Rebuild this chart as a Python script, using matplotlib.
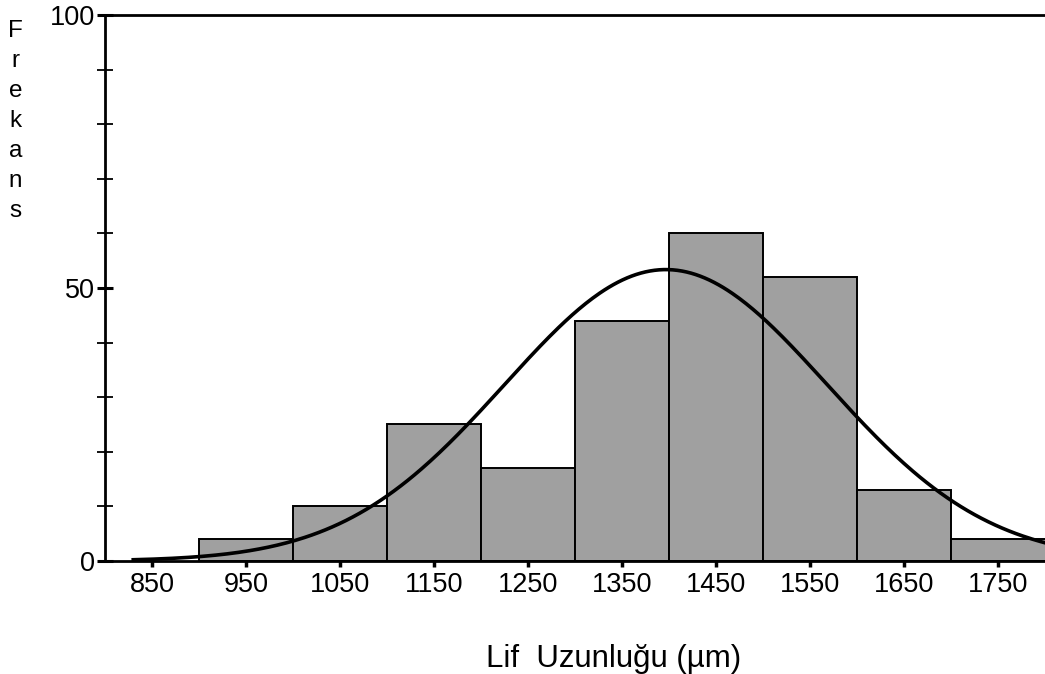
import matplotlib.pyplot as plt
import numpy as np

plt.rcParams['font.family'] = ['Liberation Sans', 'DejaVu Sans']

# histogram bins (fibre length, um) and counts
bin_edges = [900, 1000, 1100, 1200, 1300, 1400, 1500, 1600, 1700, 1800]
counts = [4, 10, 25, 17, 44, 60, 52, 13, 4]
x_ticks = [850, 950, 1050, 1150, 1250, 1350, 1450, 1550, 1650, 1750]
y_ticks = [0, 50, 100]
y_label = "Frekans"
x_label = "Lif  Uzunluğu (µm)"

edges = np.array(bin_edges, dtype=float)
n = np.array(counts, dtype=float)
mids = (edges[:-1] + edges[1:]) / 2
widths = np.diff(edges)

# normal curve fitted to the binned data
total = n.sum()
mean = (n * mids).sum() / total
sd = np.sqrt((n * (mids - mean) ** 2).sum() / total)
xs = np.linspace(830, 1800, 400)
ys = total * widths[0] * np.exp(-0.5 * ((xs - mean) / sd) ** 2) / (sd * np.sqrt(2 * np.pi))

fig = plt.figure(figsize=(10.45, 6.74), dpi=100)
ax = fig.add_axes([0.1005, 0.1677, 0.9, 0.81])

ax.bar(edges[:-1], n, width=widths, align='edge', color='#a0a0a0',
       edgecolor='black', linewidth=1.4, zorder=2)
ax.plot(xs, ys, color='black', linewidth=2.6, zorder=3)

ax.set_xlim(800, 1800)
ax.set_ylim(0, 100)
ax.spines['right'].set_visible(False)
for s in ['left', 'bottom', 'top']:
    ax.spines[s].set_linewidth(2)

ax.set_xticks(x_ticks)
ax.set_yticks(y_ticks)
ax.set_yticks(range(0, 101, 10), minor=True)
ax.tick_params(axis='x', direction='out', length=4, width=2.5, pad=4, labelsize=19.5)
ax.tick_params(axis='y', which='major', direction='inout', length=12, width=2.2, pad=1, labelsize=19.5)
ax.tick_params(axis='y', which='minor', direction='inout', length=12, width=1.3)

# vertical stacked y label, one letter per line
for i, ch in enumerate(y_label):
    fig.text(0.015, 1 - (37 + i * 30) / 674, ch, fontsize=17.5, ha='center', va='baseline')
fig.text(0.5875, 1 - 667 / 674, x_label, fontsize=22.5, ha='center', va='baseline')

fig.savefig('out.png', dpi=100)
